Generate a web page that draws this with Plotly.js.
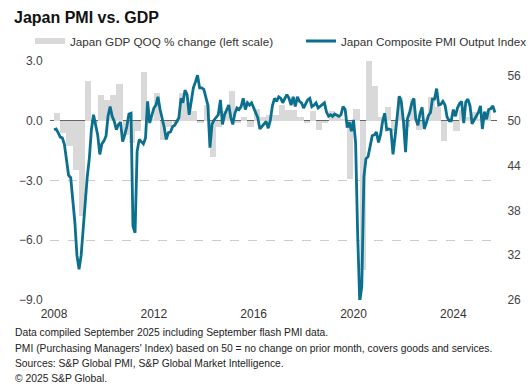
<!DOCTYPE html>
<html>
<head>
<meta charset="utf-8">
<script src="https://cdn.plot.ly/plotly-3.0.1.min.js"></script>
<style>html,body{margin:0;padding:0;background:#fff;}#chart{width:532px;height:388px;}</style>
</head>
<body>
<div id="chart"></div>
<script>
// Japan GDP, quarter-on-quarter % change, 2008 Q1 .. 2025 Q2
const gdpStartYear = 2008;
const gdpQoQ = [
  0.4, -0.6, -1.25, -2.45,
  -4.8, 2.0, -0.1, 1.3,
  1.05, 1.3, 1.85, -0.7,
  -1.1, -0.5, 2.45, 0.1,
  1.4, -0.95, -0.3, -0.1,
  1.4, 0.9, 0.5, -0.1,
  0.8, -1.8, -0.3, 0.5,
  1.5, -0.1, 0.2, -0.3,
  0.6, 0.2, 0.3, 0.3,
  0.8, 0.55, 0.55, 0.2,
  -0.1, 0.5, -0.45, -0.1,
  0.5, 0.3, 0.1, -2.9,
  0.6, -7.5, 5.3, 1.75,
  0.2, 0.7, -0.5, 1.2,
  -0.3, 1.1, -0.45, 0.1,
  1.2, 0.7, -1.0, 0.0,
  -0.5, 0.55, 0.2, 0.45,
  0.1, 0.5
];

// Japan Composite PMI Output Index, monthly, Jan 2008 .. Sep 2025
const pmiStartYear = 2008;
const pmiComposite = [
  48.8, 48.9, 48.4, 47.8, 47.7, 46.8, 44.8, 42.7, 42.4, 39.9, 36.4, 32.0,
  30.1, 32.0, 35.5, 39.0, 42.5, 45.0, 48.8, 50.8, 49.2, 48.1, 45.5, 46.9,
  47.3, 48.0, 50.6, 51.9, 50.6, 49.9, 48.8, 49.5, 49.8, 47.2, 48.1, 49.2,
  50.9, 51.0, 35.9, 35.0, 45.9, 47.5, 47.2, 46.9, 47.7, 52.6, 49.7, 50.8,
  51.7, 52.1, 53.2, 51.5, 50.4, 49.1, 47.5, 48.4, 48.5, 49.2, 49.4, 49.9,
  50.4, 53.0, 52.4, 54.1, 53.5, 50.8, 52.6, 54.4, 55.2, 56.1, 54.4, 54.4,
  54.2, 53.0, 52.1, 46.4, 49.5, 50.1, 50.4, 50.8, 52.8, 49.5, 50.8, 51.5,
  52.1, 50.4, 49.5, 51.0, 51.7, 51.5, 51.9, 53.0, 51.5, 52.4, 52.1, 52.4,
  51.7, 50.8, 50.4, 48.9, 49.2, 49.5, 49.9, 49.0, 50.1, 52.0, 53.0, 52.6,
  53.2, 53.0, 52.4, 53.0, 53.5, 53.0, 52.1, 53.2, 51.9, 53.2, 52.6, 52.4,
  51.7, 52.3, 52.8, 53.0, 51.9, 52.1, 52.4, 51.7, 51.9, 52.1, 52.4, 51.2,
  50.6, 50.8, 50.6, 50.9, 50.8, 50.6, 50.8, 51.9, 51.5, 49.1, 49.8, 48.6,
  50.1, 47.0, 35.0, 25.8, 27.8, 42.5, 44.9, 45.2, 46.6, 48.0, 48.1, 48.5,
  47.1, 48.2, 49.9, 51.0, 48.8, 48.9, 48.8, 45.5, 47.9, 50.7, 53.3, 52.5,
  49.9, 45.8, 50.3, 51.1, 52.3, 53.0, 50.2, 49.4, 51.0, 51.8, 48.9, 49.7,
  50.7, 51.1, 52.9, 52.9, 54.3, 52.1, 52.2, 52.6, 52.1, 50.5, 50.0, 50.0,
  51.5, 50.6, 51.7, 52.3, 52.6, 49.7, 52.5, 52.9, 52.0, 49.6, 50.1, 50.5,
  51.1, 52.0, 48.9, 51.2, 50.2, 51.5, 51.6, 52.0, 51.1
];

const seriesNames = ['Japan GDP QOQ % change (left scale)', 'Japan Composite PMI Output Index'];
const leftTicks = [-9, -6, -3, 0, 3];
const rightTicks = [26, 32, 38, 44, 50, 56];
const footerLines = [
  'Data compiled September 2025 including September flash PMI data.',
  "PMI (Purchasing Managers' Index) based on 50 = no change on prior month, covers goods and services.",
  'Sources: S&P Global PMI, S&P Global Market Intelligence.',
  '\u00a9 2025 S&P Global.'
];
const chartTitle = 'Japan PMI vs. GDP';

function pad(n){ return (n < 10 ? '0' : '') + n; }
const gdpDates = gdpQoQ.map((_, i) => {
  const y = gdpStartYear + Math.floor(i / 4);
  const m = (i % 4) * 3 + 2;
  return y + '-' + pad(m) + '-15';
});
const pmiDates = pmiComposite.map((_, i) => {
  const y = pmiStartYear + Math.floor(i / 12);
  const m = (i % 12) + 1;
  return y + '-' + pad(m) + '-01';
});

const GRAY = '#d9d9d9';
const BLUE = '#0b6f8e';

const traces = [
  {
    type: 'bar', x: gdpDates, y: gdpQoQ, yaxis: 'y', xaxis: 'x',
    width: 91.3 * 86400000,
    marker: { color: GRAY, line: { width: 0 } },
    showlegend: false, hoverinfo: 'skip', name: seriesNames[0]
  },
  {
    type: 'scatter', mode: 'lines', x: [null], y: [null], yaxis: 'y',
    line: { color: GRAY, width: 6 }, name: seriesNames[0], showlegend: true,
    hoverinfo: 'skip', legendwidth: 226
  },
  {
    type: 'scatter', mode: 'lines', x: pmiDates, y: pmiComposite, yaxis: 'y2',
    line: { color: BLUE, width: 2.8 }, name: seriesNames[1], showlegend: true
  }
];

const W = 532, H = 388, L = 50, R = 35, T = 61, B = 88;
const pw = W - L - R, ph = H - T - B;
function px2x(X){ return (X - L) / pw; }
function px2y(Y){ return (H - B - Y) / ph; }

const footerY = [332, 348, 363, 378];
const annotations = footerLines.map((t, i) => ({
  text: t, xref: 'paper', yref: 'paper', x: px2x(13), y: px2y(footerY[i]),
  xanchor: 'left', yanchor: 'middle', showarrow: false, align: 'left',
  font: { size: 10.3, color: '#222' }
}));

const layout = {
  width: W, height: H,
  margin: { l: L, r: R, t: T, b: B, pad: 0, autoexpand: false },
  paper_bgcolor: '#ffffff', plot_bgcolor: '#ffffff',
  font: { family: 'Liberation Sans, Arial, sans-serif', size: 12, color: '#333' },
  title: {
    text: '<b>' + chartTitle + '</b>', xref: 'container', yref: 'container',
    x: 14 / W, xanchor: 'left', y: 1 - 17 / H, yanchor: 'middle',
    font: { size: 16, color: '#111' }
  },
  xaxis: {
    type: 'date', range: ['2007-11-03', '2025-10-01'],
    tick0: '2008-01-01', dtick: 'M48', tickformat: '%Y',
    showgrid: false, zeroline: false, showline: false,
    ticks: 'outside', ticklen: 3, tickcolor: 'rgba(0,0,0,0)',
    tickfont: { size: 12, color: '#333' }, fixedrange: true
  },
  yaxis: {
    range: [-9, 3], tickvals: leftTicks, tickformat: '.1f',
    showgrid: true, gridcolor: '#cccccc', gridwidth: 1, griddash: 'dash',
    zeroline: true, zerolinecolor: '#666666', zerolinewidth: 1.2,
    showline: false, ticks: 'outside', ticklen: 4, tickcolor: 'rgba(0,0,0,0)',
    tickfont: { size: 12, color: '#444' }, fixedrange: true
  },
  yaxis2: {
    range: [26, 58], tickvals: rightTicks, overlaying: 'y', side: 'right',
    showgrid: false, zeroline: false, showline: false,
    ticks: 'outside', ticklen: 7, tickcolor: 'rgba(0,0,0,0)',
    tickfont: { size: 12, color: '#444' }, fixedrange: true
  },
  bargap: 0,
  showlegend: true,
  legend: {
    orientation: 'h', xref: 'paper', yref: 'paper',
    x: px2x(30), xanchor: 'left', y: px2y(41), yanchor: 'middle',
    font: { size: 11.7, color: '#333' }, bgcolor: 'rgba(0,0,0,0)',
    traceorder: 'normal'
  },
  annotations: annotations,
  hovermode: false
};

Plotly.newPlot('chart', traces, layout, { displayModeBar: false, staticPlot: true });
</script>
</body>
</html>
